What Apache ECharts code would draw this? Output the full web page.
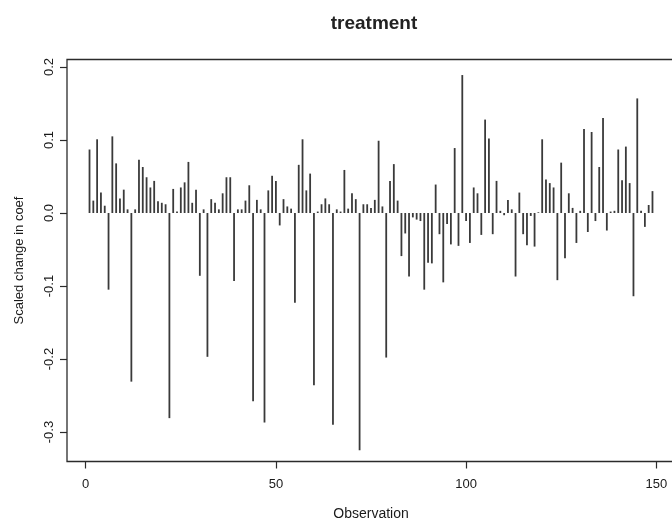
<!DOCTYPE html>
<html>
<head>
<meta charset="utf-8">
<script src="https://cdn.jsdelivr.net/npm/echarts@6/dist/echarts.min.js"></script>
<style>
  html, body { margin: 0; padding: 0; background: #fff; }
  #chart { width: 672px; height: 526px; }
</style>
</head>
<body>
<div id="chart"></div>
<script>
// Scaled change in coefficient ("treatment") for each observation 1..149
const coefChange = [
  0.087, 0.017, 0.101, 0.028, 0.010, -0.105, 0.105, 0.068, 0.020, 0.032,
  0.005, -0.231, 0.005, 0.073, 0.063, 0.049, 0.035, 0.044, 0.016, 0.014,
  0.012, -0.281, 0.033, 0.002, 0.035, 0.042, 0.070, 0.014, 0.032, -0.086,
  0.005, -0.197, 0.019, 0.014, 0.005, 0.027, 0.049, 0.049, -0.093, 0.005,
  0.005, 0.017, 0.038, -0.258, 0.018, 0.005, -0.287, 0.031, 0.051, 0.044,
  -0.017, 0.019, 0.009, 0.006, -0.123, 0.066, 0.101, 0.031, 0.054, -0.236,
  0.002, 0.012, 0.020, 0.012, -0.290, 0.005, 0.002, 0.059, 0.006, 0.027,
  0.019, -0.325, 0.012, 0.012, 0.007, 0.018, 0.099, 0.009, -0.198, 0.044,
  0.067, 0.017, -0.059, -0.028, -0.087, -0.006, -0.009, -0.011, -0.105, -0.068,
  -0.069, 0.039, -0.029, -0.095, -0.015, -0.043, 0.089, -0.045, 0.189, -0.011,
  -0.041, 0.035, 0.027, -0.030, 0.128, 0.102, -0.029, 0.044, 0.003, -0.003,
  0.018, 0.005, -0.087, 0.028, -0.029, -0.044, -0.004, -0.046, 0.001, 0.101,
  0.046, 0.041, 0.035, -0.092, 0.069, -0.062, 0.027, 0.007, -0.041, 0.003,
  0.115, -0.026, 0.111, -0.011, 0.063, 0.130, -0.024, 0.002, 0.003, 0.087,
  0.045, 0.091, 0.041, -0.114, 0.157, 0.003, -0.019, 0.011, 0.030
];
const observation = coefChange.map((_, i) => i + 1);
const xTicks = [0, 50, 100, 150];
const yTicks = [-0.3, -0.2, -0.1, 0.0, 0.1, 0.2];
const titleText = 'treatment';
const xName = 'Observation';
const yName = 'Scaled change in coef';

const FONT = '"Liberation Sans", Arial, Helvetica, sans-serif';
const INK = '#2b2b2b';

const chart = echarts.init(document.getElementById('chart'), null, { renderer: 'canvas' });
chart.setOption({
  backgroundColor: '#ffffff',
  animation: false,
  title: {
    text: titleText,
    left: 369,
    top: 9,
    textAlign: 'center',
    textStyle: { fontFamily: FONT, fontSize: 19, fontWeight: 'bold', color: '#222222' }
  },
  grid: {
    left: 67, top: 59.5, width: 608, height: 402,
    show: true, borderColor: INK, borderWidth: 1.3, backgroundColor: 'transparent',
    containLabel: false, outerBoundsMode: 'none'
  },
  xAxis: {
    type: 'value',
    position: 'bottom',
    min: -4.92, max: 154.92,
    name: xName,
    nameLocation: 'middle',
    nameGap: 46,
    nameTextStyle: { fontFamily: FONT, fontSize: 14, color: '#1a1a1a' },
    axisLine: { show: false, onZero: false },
    splitLine: { show: false },
    axisTick: { show: true, customValues: xTicks, length: 7, lineStyle: { color: INK, width: 1.2 } },
    axisLabel: {
      customValues: xTicks, margin: 16, fontFamily: FONT, fontSize: 13, color: '#1a1a1a',
      formatter: v => String(v)
    }
  },
  yAxis: {
    type: 'value',
    position: 'left',
    min: -0.3404, max: 0.2103,
    name: yName,
    nameLocation: 'middle',
    nameRotate: 90,
    nameGap: 41,
    nameTextStyle: { fontFamily: FONT, fontSize: 13, color: '#1a1a1a' },
    axisLine: { show: false, onZero: false },
    splitLine: { show: false },
    axisTick: { show: true, customValues: yTicks, length: 7, lineStyle: { color: INK, width: 1.2 } },
    axisLabel: {
      customValues: yTicks, rotate: 90, margin: 11, fontFamily: FONT, fontSize: 13, color: '#1a1a1a',
      formatter: v => (Math.round(v * 10) / 10).toFixed(1)
    }
  },
  series: [{
    type: 'bar',
    data: observation.map((o, i) => [o, coefChange[i]]),
    barWidth: 1.8,
    itemStyle: { color: '#3a3a3a' },
    silent: true
  }]
});
</script>
</body>
</html>
